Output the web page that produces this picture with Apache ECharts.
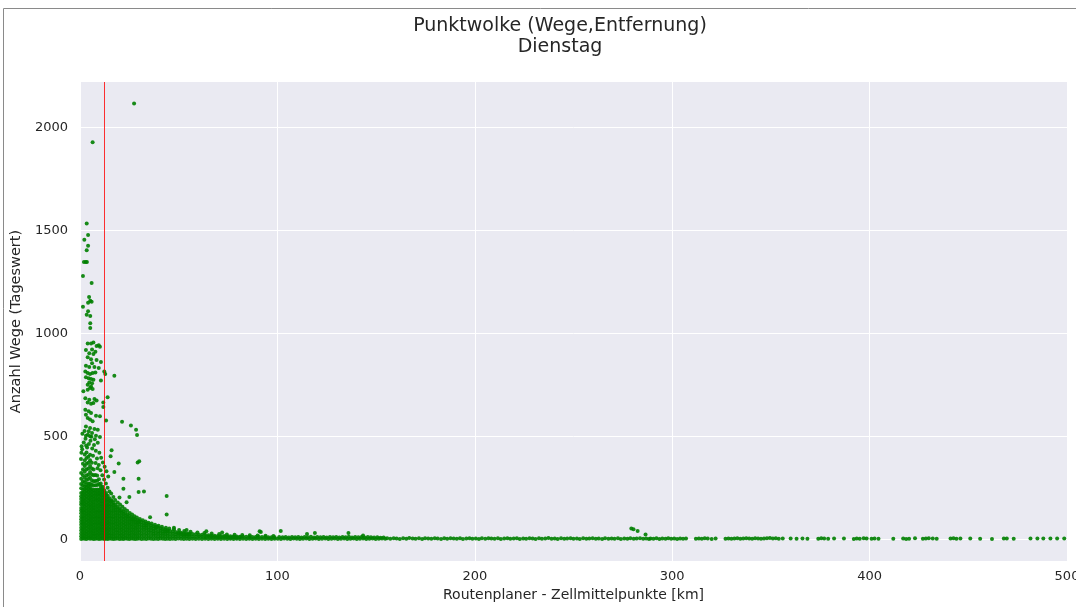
<!DOCTYPE html>
<html>
<head>
<meta charset="utf-8">
<title>Punktwolke (Wege,Entfernung) – Dienstag</title>
<script src="https://cdn.jsdelivr.net/npm/echarts@6/dist/echarts.min.js"></script>
<style>
  html, body { margin: 0; padding: 0; background: #ffffff; }
  #chart { width: 1076px; height: 607px; }
</style>
</head>
<body>
<div id="chart"></div>
<script>
// Tick labels
const xTicks = [0, 100, 200, 300, 400, 500];
const yTicks = [0, 500, 1000, 1500, 2000];

// Mittlere Entfernung (rote Linie), km
const meanDistance = 12.2;

// Dichter Kern: je Entfernung (km) die Tageswerte der Relationen
const coreColumns = [
  [0.6, [1,14,27,42,55,70,83,97,110,126,139,152,168,181,195,209,224,247,268,293,322]],
  [1.5, [3,16,30,44,57,72,85,99,113,127,141,154,170,183,197,212,226,240,262,282,311,339,366]],
  [2.4, [2,15,29,43,58,71,86,100,114,128,142,157,171,185,199,214,228,242,256,276,299,327,356,384,411]],
  [3.3, [1,13,26,40,54,68,82,96,111,125,139,153,167,181,196,210,224,238,252,267,288,309,338,366,394,421]],
  [4.2, [4,17,31,45,59,73,87,101,115,129,143,158,172,186,200,215,229,243,257,271,292,314,343,371,400]],
  [5.1, [2,16,30,44,58,72,86,100,114,128,142,156,170,185,199,213,227,241,255,270,298,326,355,383,410]],
  [6.0, [3,17,31,45,59,73,87,101,115,130,144,158,172,186,201,215,229,243,265,286,314,343,371]],
  [6.9, [1,15,28,42,56,70,84,98,112,126,140,154,168,183,197,211,225,239,261,282,311,339]],
  [7.8, [2,16,29,43,57,71,85,99,113,127,141,155,169,184,198,212,226,240,262,283,312]],
  [8.7, [3,17,31,44,58,72,86,100,114,128,142,156,171,185,199,213,227,241,263,284,309]],
  [9.6, [1,15,29,43,57,71,85,99,113,127,141,155,169,183,197,212,226,240,268,291]],
  [10.5, [2,16,30,44,58,72,86,100,114,128,142,157,171,185,199,213,227,241,256,270]],
  [11.4, [3,17,31,45,59,73,87,101,115,129,143,157,172,186,200,214,228,243,255]],
  [12.3, [1,15,29,42,56,70,84,98,112,126,140,154,168,183,197,211,225,238]],
  [13.2, [2,16,30,44,58,72,86,100,114,128,142,156,170,185,199,213,224]],
  [14.1, [1,14,28,42,56,70,84,98,112,126,140,155,169,183,197,211]],
  [15.0, [3,17,30,44,58,72,86,100,114,129,143,157,171,186,199]],
  [16.0, [2,15,29,43,57,71,85,99,113,127,141,156,170,184,188]],
  [17.0, [1,14,28,42,56,70,84,98,112,126,140,154,167,177]],
  [18.0, [2,16,30,44,58,72,86,100,114,128,142,155,167]],
  [19.0, [3,17,31,45,59,73,87,101,115,129,143,157]],
  [20.0, [1,15,29,43,57,71,85,99,113,127,140,150]],
  [21.0, [2,16,30,44,58,72,86,100,114,128,141]],
  [22.0, [1,14,28,42,56,70,84,98,112,125,134]],
  [23.0, [3,17,31,45,59,73,87,101,114,127]],
  [24.0, [2,16,30,44,58,72,86,99,111,120]],
  [25.0, [1,15,29,43,57,71,85,99,113]],
  [26.0, [3,17,31,45,59,73,86,97,107]],
  [27.0, [2,16,30,44,58,72,85,96,102]],
  [28.0, [1,15,29,43,57,70,83,96]],
  [29.0, [2,16,30,44,58,71,82,92]],
  [30.0, [3,17,31,45,59,72,84,88]],
  [31.2, [1,15,29,43,57,70,83]],
  [32.4, [2,16,30,44,57,68,79]],
  [33.6, [1,15,29,43,56,66,75]],
  [34.8, [3,17,31,44,57,71]],
  [36.0, [2,16,30,43,55,67]],
  [37.2, [1,15,28,40,52,63]],
  [38.4, [2,16,29,42,54,59]],
  [39.6, [1,14,27,40,55]],
  [40.8, [3,16,29,41,52]],
  [42.0, [2,15,28,39,49]],
  [43.2, [1,14,26,37,46]],
  [44.4, [2,15,28,38,43]],
  [45.6, [1,13,26,40]],
  [47.0, [2,14,26,37]],
  [48.4, [1,13,24,35]],
  [49.8, [3,15,26,33]],
  [51.2, [2,14,25,31]],
  [52.6, [1,13,22,29]],
  [54.0, [2,14,23,28]],
  [55.4, [1,12,22,27]],
  [57.0, [2,13,25]],
  [58.6, [1,12,24]],
  [60.2, [2,13,22]],
  [61.8, [1,12,21]],
  [63.4, [2,11,20]],
  [65.0, [1,12,19]],
  [66.6, [2,11,18]],
  [68.2, [1,10,17]],
  [69.8, [2,9,16]],
  [71.4, [1,9,15]],
  [73.0, [2,10,15]],
  [74.6, [1,9,14]],
  [76.2, [2,8,14]],
  [77.8, [1,9,13]],
  [79.4, [2,8,13]],
  [81.0, [1,9,12]],
  [82.6, [2,12]],
  [84.2, [1,12]],
  [85.8, [2,11]],
  [87.4, [1,11]],
  [89.0, [2,11]],
  [90.6, [1,10]],
  [92.2, [2,10]],
  [93.8, [1,10]],
  [95.4, [2,9]],
  [97.0, [1,9]],
  [98.6, [2,9]]
];

// Streuung oberhalb des Kerns und Ausreißer: [km, Wege]
const scatterPoints = [
  [27.4,2117],[6.4,1928],[3.4,1534],[4.1,1478],[2.2,1455],[4.1,1426],[3.4,1404],
  [2.0,1346],[2.9,1346],[3.5,1346],[1.5,1278],[5.9,1244],[4.6,1176],[5.2,1158],
  [5.9,1153],[4.1,1149],[1.5,1129],[4.1,1107],[3.4,1090],[5.2,1084],[5.2,1049],[5.2,1026],
  [3.9,951],[5.6,951],[6.8,955],[8.4,938],[9.5,942],[10.1,935],[6.1,922],[3.0,919],
  [7.8,911],[4.7,903],[6.8,900],[3.9,884],[5.6,874],[8.4,871],[10.6,861],[6.1,855],
  [3.0,842],[4.7,836],[7.3,836],[9.5,831],[2.7,815],[3.9,807],[5.1,802],[6.4,807],
  [7.8,810],[12.3,815],[12.8,803],[17.4,794],[3.0,787],[4.4,782],[5.6,778],[6.8,774],
  [10.6,771],[4.7,761],[6.1,758],[3.9,750],[5.6,742],[1.7,719],[3.9,726],[5.1,734],
  [6.4,729],[14.0,690],[2.7,685],[4.7,677],[7.3,681],[8.4,674],[3.9,664],[5.6,658],
  [6.8,661],[11.8,664],[11.8,642],[2.7,629],[4.4,621],[5.6,613],[3.0,605],[8.1,600],
  [10.1,597],[3.9,589],[5.1,581],[6.4,573],[13.2,577],[21.3,571],[25.8,552],[28.4,532],
  [28.9,506],[3.0,548],[5.1,540],[7.3,535],[9.0,532],[4.4,524],[6.1,516],[3.0,503],
  [5.1,500],[8.1,503],[10.1,497],
  [0.8,452],[1.9,470],[2.8,488],[3.6,445],[4.5,462],[5.3,478],[6.2,441],[7.1,458],
  [8.0,429],[1.2,512],[2.3,525],[4.0,507],[5.8,498],[7.5,486],[9.0,468],[9.8,420],
  [10.7,395],[11.6,372],[12.5,352],[13.4,330],[14.3,305],[8.6,392],[9.5,360],[10.4,335],
  [11.3,310],[12.2,290],[13.1,270],[14.0,250],[0.5,390],[0.7,420],[1.1,437],[3.1,455],
  [6.6,405],[7.9,370],[8.9,345],[14.9,232],[15.8,222],[16.9,205],[17.8,190],[19.1,178],
  [20.3,168],[21.5,158],[22.7,147],[23.9,138],[25.2,127],[26.4,120],[27.6,112],[28.8,105],
  [30.3,98],[31.8,92],[33.2,86],[34.7,80],[36.3,76],[38.0,70],[39.8,65],[41.5,60],
  [43.5,56],[45.2,52],[47.6,48],[50.2,44],[52.8,40],[56.0,36],[59.5,33],[63.0,30],
  [66.7,27],[70.5,25],[74.4,23],[78.3,21],[82.2,20],[86.0,19],[90.0,18],[94.0,17],[98.0,16],
  [16.0,432],[15.5,403],[19.6,368],[29.2,372],[30.0,379],[17.4,326],[22.0,294],[29.7,294],
  [22.0,245],[29.7,229],[32.4,232],[20.0,202],[25.0,205],[23.6,180],[43.9,210],[43.9,120],
  [35.5,106],[39.0,60],[47.6,55],[54.0,45],[64.0,38],[72.0,32],[91.0,38],[101.7,40],
  [91.6,35],[115.0,25],[119.0,30],[136.0,30],[143.4,18],
  [279.3,52],[280.4,48],[282.5,40],[286.5,23]
];

// Langer Ausläufer bei großen Entfernungen: [km, Wege]
const tailPoints = [
  [100.2,2],[100.9,10],[101.8,1],[102.6,9],[103.4,3],[104.2,11],[105,2],[105.8,8],
  [106.6,1],[107.4,10],[108.2,3],[109,9],[109.8,2],[110.6,11],[111.4,1],[112.2,8],
  [113,2],[113.8,10],[114.6,3],[115.4,9],[116.2,1],[117,12],[117.8,2],[118.6,8],
  [119.4,3],[120.2,10],[121,1],[121.8,9],[122.6,2],[123.4,11],[124.2,3],[125,8],
  [125.8,1],[126.6,10],[127.4,2],[128.2,9],[129,3],[129.8,11],[130.6,1],[131.4,8],
  [132.2,2],[133,10],[133.8,3],[134.6,9],[135.4,1],[136.2,12],[137,2],[137.8,8],
  [138.6,3],[139.4,10],[140.2,1],[141,9],[141.8,2],[142.6,11],[143.4,3],[144.2,8],
  [145,1],[145.8,10],[146.6,2],[147.4,9],[148.2,3],[149,8],[149.8,1],[150.6,9],
  [151.4,2],[152.2,7],[153,3],[153.8,8],[154.6,2],
  [155.6,4],[157.2,2],[158.9,5],[160.4,3],[162,1],[163.7,4],[165.3,2],[166.8,6],
  [168.5,3],[170,2],[171.7,4],[173.3,1],[174.8,5],[176.4,3],[178,2],[179.7,4],
  [181.2,3],[182.9,1],[184.5,5],[186,2],[187.7,4],[189.3,3],[190.9,2],[192.5,5],
  [194,1],[195.7,3],[197.3,4],[198.8,2],[200.5,3],[202.1,1],[203.6,4],[205.3,2],
  [206.9,5],[208.4,3],[210,2],[211.7,4],[213.2,1],[214.9,3],[216.5,5],[218,2],
  [219.7,3],[221.3,4],[222.8,1],[224.5,3],[226,2],[227.7,5],[229.3,3],[230.8,1],
  [232.5,4],[234,2],[235.7,3],[237.3,6],[238.9,2],[240.5,3],[242,1],[243.7,4],
  [245.3,2],[246.8,3],[248.5,5],[250,2],[251.7,3],[253.2,1],[254.9,4],[256.5,2],
  [258,3],[259.7,5],[261.3,2],[262.8,3],[264.5,1],[266,4],[267.7,2],[269.3,3],
  [270.8,2],[272.5,4],[274,1],[275.7,3],[277.3,2],[278.8,4],[280.5,2],[282,3],
  [283.7,5],[285.3,2],[286.8,3],[288.2,1],
  [289,3],[290.5,2],[292,4],[293.5,1],[295,3],[296.6,2],[298,4],[299.5,2],[301,3],
  [302.5,1],[304,3],[305.5,2],[307,3],
  [312,2],[313.5,3],[315,2],[316.5,4],[318,3],[320,1],[322,3],
  [327,2],[328.5,3],[330,2],[331.5,3],[333,4],[334.5,2],[336,3],[337.5,5],[339,3],
  [340.5,2],[342,4],[343.5,3],[345,2],[346.5,3],[348,4],[349.5,6],[351,3],[352.5,4],[354,2],
  [356,3],[360,3],[363,2],[366,3],[368.5,2],
  [374,2],[375.5,4],[377,3],[379,2],[382,3],[387,3],[392,1],[393.5,3],[395,2],[397,4],[398.5,3],
  [401,2],[402.5,3],[404.5,2],[412,2],[417,3],[418.5,1],[420,2],[423,4],[427,2],[428.5,3],
  [430,4],[432,3],[434,2],[441,3],[442.5,4],[444,2],[446,3],[451,3],[456,2],[462,1],
  [468,3],[469.5,3],[473,2],
  [481.5,3],[485,3],[488,3],[491.6,3],[495,3],[498.6,3]
];

const corePoints = coreColumns.flatMap(([km, counts]) => counts.map(c => [km, c]));
const allPoints = corePoints.concat(scatterPoints, tailPoints);

const textColor = '#262626';
const font = 'DejaVu Sans';

const chart = echarts.init(document.getElementById('chart'), null, { renderer: 'canvas' });
chart.setOption({
  animation: false,
  backgroundColor: '#ffffff',
  graphic: [{
    type: 'rect',
    silent: true,
    z: -10,
    shape: { x: 3.5, y: 8.5, width: 1200, height: 700 },
    style: { fill: 'none', stroke: '#8a8a8a', lineWidth: 1 }
  }],
  title: {
    text: 'Punktwolke (Wege,Entfernung)\nDienstag',
    left: 555,
    top: 11,
    textAlign: 'center',
    textStyle: { fontFamily: font, fontSize: 19, fontWeight: 'normal', color: textColor, lineHeight: 21 }
  },
  grid: {
    left: 80, right: 9, top: 82, bottom: 46,
    outerBoundsMode: 'none',
    containLabel: false,
    show: true, backgroundColor: '#EAEAF2', borderWidth: 0
  },
  xAxis: {
    type: 'value',
    min: 0, max: 500, interval: 100,
    name: 'Routenplaner - Zellmittelpunkte [km]',
    nameLocation: 'middle',
    nameGap: 27,
    nameTextStyle: { fontFamily: font, fontSize: 14, color: textColor },
    axisLine: { show: false },
    axisTick: { show: false },
    axisLabel: {
      fontFamily: font, fontSize: 13, color: textColor, margin: 9,
      customValues: xTicks,
      formatter: v => String(v)
    },
    splitLine: { show: true, lineStyle: { color: '#ffffff', width: 1 } }
  },
  yAxis: {
    type: 'value',
    min: -106, max: 2221,
    name: 'Anzahl Wege (Tageswert)',
    nameLocation: 'middle',
    nameGap: 54,
    nameTextStyle: { fontFamily: font, fontSize: 14.5, color: textColor },
    axisLine: { show: false },
    axisTick: { show: false, customValues: yTicks },
    axisLabel: {
      fontFamily: font, fontSize: 13, color: textColor, margin: 12,
      customValues: yTicks,
      formatter: v => String(v)
    },
    splitLine: { show: true, lineStyle: { color: '#ffffff', width: 1 } }
  },
  series: [{
    type: 'scatter',
    data: allPoints,
    symbol: 'circle',
    symbolSize: 4,
    itemStyle: { color: '#008000', opacity: 0.9 },
    silent: true,
    markLine: {
      silent: true,
      symbol: 'none',
      label: { show: false },
      lineStyle: { color: '#ff0000', width: 1, type: 'solid', opacity: 0.8 },
      data: [{ xAxis: meanDistance }]
    }
  }]
});
</script>
</body>
</html>
